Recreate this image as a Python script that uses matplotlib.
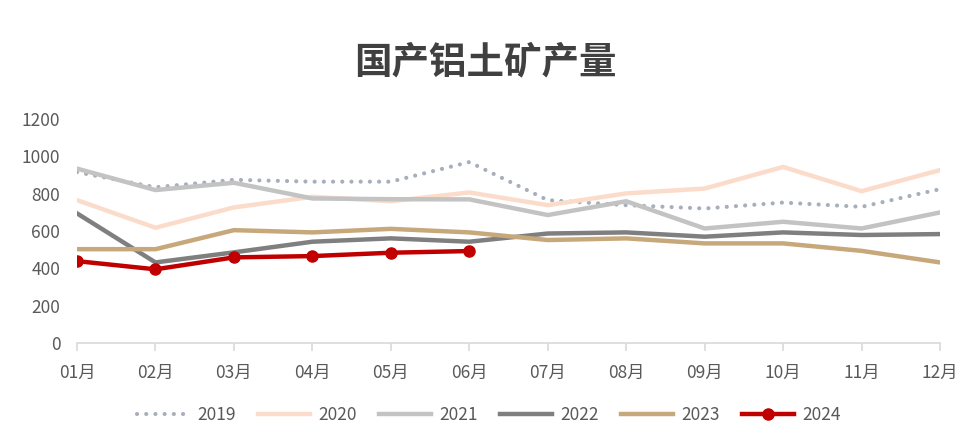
import numpy as np
import matplotlib.pyplot as plt

plt.rcParams['font.family'] = ['Noto Sans CJK SC', 'DejaVu Sans']

months = ['01月', '02月', '03月', '04月', '05月', '06月',
          '07月', '08月', '09月', '10月', '11月', '12月']
y2019 = [916, 835, 875, 865, 865, 970, 766, 739, 721, 753, 730, 825]
y2020 = [766, 618, 727, 784, 760, 807, 739, 802, 828, 944, 814, 927]
y2021 = [935, 820, 859, 775, 771, 770, 686, 760, 614, 650, 614, 700]
y2022 = [695, 432, 486, 543, 561, 543, 587, 593, 570, 593, 579, 584]
y2023 = [503, 503, 605, 593, 612, 593, 552, 561, 534, 534, 494, 432]
y2024 = [439, 395, 459, 466, 484, 493]

fig = plt.figure(figsize=(9.7, 4.38), dpi=100)
ax = fig.add_axes([0.0794, 0.2169, 0.8897, 0.511])

x = np.arange(len(months))
ax.plot(x, y2019, color='#A7AFBD', lw=3.0, linestyle=(0, (0.01, 2.2)),
        dash_capstyle='round', label='2019')
ax.plot(x, y2020, color='#FBDCCB', lw=3.2, label='2020')
ax.plot(x, y2021, color='#C3C3C3', lw=3.2, label='2021')
ax.plot(x, y2022, color='#7F7F7F', lw=3.2, label='2022')
ax.plot(x, y2023, color='#C7A87B', lw=3.2, label='2023')
ax.plot(x[:len(y2024)], y2024, color='#C00000', lw=3.2, marker='o',
        markersize=8, label='2024')

ax.set_xlim(0, 11)
ax.set_ylim(0, 1200)
ax.set_yticks(range(0, 1201, 200))
ax.set_xticks(x)
ax.set_xticklabels(months)
for s in ['top', 'right', 'left']:
    ax.spines[s].set_visible(False)
ax.spines['bottom'].set_color('#D9D9D9')
ax.spines['bottom'].set_linewidth(1.2)
ax.tick_params(axis='x', colors='#D9D9D9', length=6, width=1.2,
               labelcolor='#595959', labelsize=12.5, pad=9)
ax.tick_params(axis='y', length=0, labelcolor='#595959', labelsize=12.5, pad=12)

fig.text(0.5, 0.858, '国产铝土矿产量', ha='center', va='center',
         fontsize=27, fontweight='bold', color='#404040')

leg = fig.legend(loc='center', bbox_to_anchor=(0.504, 0.053), ncol=6,
                 frameon=False, fontsize=12.5, handlelength=3.0,
                 columnspacing=1.25, handletextpad=0.5)
for t in leg.get_texts():
    t.set_color('#595959')

fig.savefig('out.png', dpi=100)
